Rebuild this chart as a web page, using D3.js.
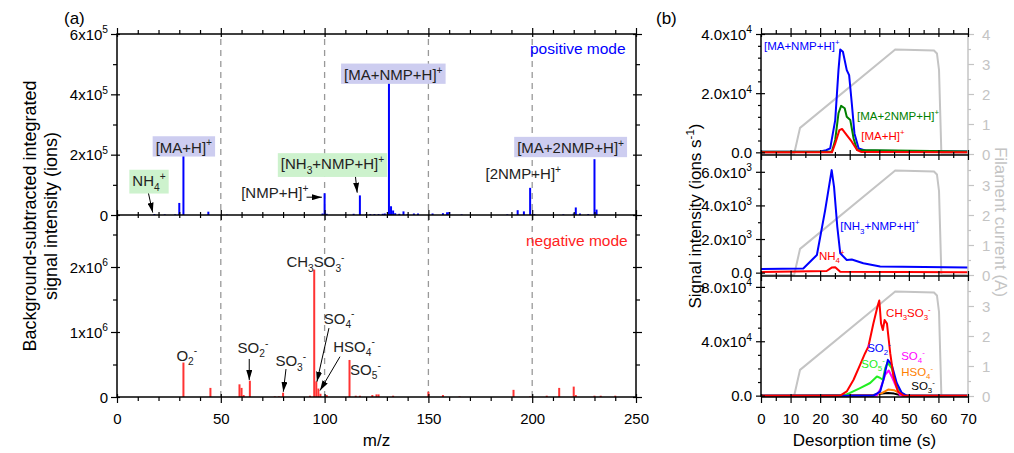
<!DOCTYPE html>
<html lang="en">
<head>
<meta charset="utf-8">
<title>Spectra and desorption profiles</title>
<script src="https://cdn.jsdelivr.net/npm/d3@7"></script>
<style>
body { margin: 0; background: #fff; }
</style>
</head>
<body>
<script>

// ---------- panel (a): integrated mass spectra ----------
var posMz  = [18, 23, 28, 30, 32, 44, 53, 99, 100, 101, 110, 114, 117, 120, 122, 124, 126, 128, 129, 131, 132, 133, 134, 136, 138, 140, 143, 145, 152, 157, 159, 160, 166, 188, 193, 196, 199, 201, 215, 220, 221, 223, 227, 230, 231];
var posInt = [3e3, 2e3, 2e3, 4e4, 1.96e5, 1.1e4, 1e3, 5e3, 7.2e4, 4e3, 1.5e3, 4e3, 6.5e4, 3e3, 3e3, 3e3, 3e3, 4e3, 5e3, 4.39e5, 2.9e4, 1.5e4, 6e3, 4e3, 1.2e4, 3e3, 5e3, 5e3, 5e3, 6e3, 9e3, 1e4, 2e3, 2e3, 1.6e4, 1.2e4, 9e4, 3e3, 2e3, 5e3, 2.5e4, 5e3, 3e3, 1.85e5, 1.8e4];

var negMz  = [32, 45, 59, 60, 61, 64, 76, 78, 80, 93, 95, 96, 97, 98, 101, 112, 115, 117, 123, 125, 126, 133, 150, 157, 165, 191, 199, 207, 213, 220, 221, 230, 233, 240];
var negInt = [5.3e5, 1.4e5, 1.95e5, 1.4e5, 3e4, 2.5e5, 1e4, 1e4, 6.6e4, 2e4, 1.96e6, 2.4e5, 1.3e5, 5e4, 3e4, 5.7e5, 2e4, 2e4, 3e4, 4e4, 4e4, 2e4, 8e4, 3e4, 1e4, 1.1e5, 1e4, 2e4, 1.4e5, 1.6e5, 3e4, 2e4, 2e4, 2e4];

var mzGrid = [50, 100, 150, 200];
var mzMajor = [0, 50, 100, 150, 200, 250];
var posTicks = [0, 2e5, 4e5, 6e5], posTickLabels = ["0", "2x10{^5}", "4x10{^5}", "6x10{^5}"];
var negTicks = [0, 1e6, 2e6],     negTickLabels = ["0", "1x10{^6}", "2x10{^6}"];

// labels: centre m/z, baseline value, box colour
var posLabels = [
  {t: "NH{_4}{^+}",             mz: 15.4,  v: 0.96e5, box: "#cdf2cd"},
  {t: "[MA+H]{^+}",             mz: 32.2,  v: 2.07e5, box: "#cdcdf0"},
  {t: "[NMP+H]{^+}",            mz: 76,    v: 0.55e5, box: null},
  {t: "[NH{_3}+NMP+H]{^+}",     mz: 103.8, v: 1.51e5, box: "#cdf2cd"},
  {t: "[MA+NMP+H]{^+}",         mz: 133.1, v: 4.48e5, box: "#cdcdf0"},
  {t: "[2NMP+H]{^+}",           mz: 195.7, v: 1.18e5, box: null},
  {t: "[MA+2NMP+H]{^+}",        mz: 218.5, v: 2.05e5, box: "#cdcdf0"}
];
var posArrows = [[14.8, 0.83e5, 17.2, 0.08e5], [91.3, 0.59e5, 98.7, 0.59e5], [114.6, 1.44e5, 115.7, 0.74e5]];

var negLabels = [
  {t: "O{_2}{^-}",        mz: 33.6,  v: 0.56e6},
  {t: "SO{_2}{^-}",       mz: 65.5,  v: 0.68e6},
  {t: "SO{_3}{^-}",       mz: 83.7,  v: 0.47e6},
  {t: "CH{_3}SO{_3}{^-}", mz: 95.6,  v: 2.0e6},
  {t: "SO{_4}{^-}",       mz: 107,   v: 1.13e6},
  {t: "HSO{_4}{^-}",      mz: 114.2, v: 0.70e6},
  {t: "SO{_5}{^-}",       mz: 119.7, v: 0.34e6}
];
var negArrows = [[63.7, 0.585e6, 63.7, 0.26e6], [81.4, 0.43e6, 80.1, 0.08e6], [102.1, 1.06e6, 96.3, 0.235e6], [107.4, 0.62e6, 97.8, 0.1e6]];

// ---------- panel (b): desorption time profiles ----------
var filT = [0, 11.2, 13.2, 45.4, 58.5, 59.5, 60.2, 61.0, 70];
var filA = [0, 0, 0.87, 3.48, 3.45, 3.35, 2.8, 0, 0];

var maNmpT  = [0, 20, 22, 23.4, 25.1, 26.2, 26.8, 27.7, 29.0, 29.8, 30.7, 31.6, 33.0, 35.8, 70];
var maNmpV  = [200, 300, 700, 1350, 10900, 27800, 34800, 34000, 27800, 26100, 16600, 6400, 1350, 500, 300];
var ma2NmpT = [0, 24, 25.1, 26.2, 27.1, 28.3, 29.0, 30.2, 31.3, 32.5, 70];
var ma2NmpV = [200, 300, 4200, 13200, 15700, 14900, 12000, 10900, 4700, 800, 300];
var maHT    = [0, 24, 25.1, 26.5, 27.4, 29.0, 30.7, 32.5, 34, 70];
var maHV    = [0, 0, 3000, 7500, 7900, 5800, 3600, 800, 100, 0];

var nh3T = [0, 14.3, 18.9, 21.7, 23.9, 24.7, 25.8, 26.8, 29, 30.7, 34.6, 40.3, 70];
var nh3V = [220, 250, 1050, 3720, 6100, 5100, 2730, 1150, 750, 780, 560, 360, 300];
var nh4T = [0, 22.2, 23.9, 25.1, 26.8, 70];
var nh4V = [30, 100, 300, 320, 50, 30];

var ch3so3T = [0, 26.8, 29, 31.3, 33.5, 35.2, 36.3, 38, 39.5, 40, 40.6, 41.2, 41.8, 42.6, 43.7, 44.8, 46.3, 48.2, 70];
var ch3so3V = [0, 0, 3100, 11700, 22700, 31200, 36000, 53000, 66500, 70000, 53000, 48300, 55600, 53000, 31200, 14100, 3000, 0, 0];
var so2T = [0, 38, 40.3, 41.4, 42.9, 44.2, 45.9, 47.6, 49.3, 70];
var so2V = [0, 0, 3000, 11700, 26300, 22700, 9300, 2000, 0, 0];
var so5T = [0, 28, 30.1, 33.5, 36.9, 39.2, 40.3, 41.2, 42, 42.8, 44.2, 45.9, 47.6, 49, 70];
var so5V = [0, 0, 2000, 5600, 9300, 14100, 13000, 11700, 20200, 24300, 20200, 6800, 2000, 0, 0];
var so4T = [0, 39, 40.3, 42, 43.2, 44.2, 45.9, 47, 48, 70];
var so4V = [0, 0, 4400, 15400, 18500, 14100, 5600, 500, 0, 0];
var hso4T = [0, 38, 41, 43, 45, 47, 49, 70];
var hso4V = [0, 0, 2000, 4500, 4000, 1500, 0, 0];
var so3T = [0, 38, 41, 43, 45, 47, 49, 70];
var so3V = [0, 500, 1500, 2000, 1500, 500, 0, 0];

var timeMajor = [0, 10, 20, 30, 40, 50, 60, 70];
var timeMinor = [5, 15, 25, 35, 45, 55, 65];

var width = 1014, height = 453;
var FONT = "'Liberation Sans', Arial, sans-serif";

var svg = d3.select("body").append("svg")
    .attr("width", width)
    .attr("height", height)
    .attr("font-family", FONT);

svg.append("defs").append("marker")
    .attr("id", "arr")
    .attr("viewBox", "0 0 10 6")
    .attr("refX", 10).attr("refY", 3)
    .attr("markerWidth", 10).attr("markerHeight", 6)
    .attr("markerUnits", "userSpaceOnUse")
    .attr("orient", "auto")
  .append("path").attr("d", "M0,0L10,3L0,6z").attr("fill", "#000");

// text with {_sub} and {^sup} parts; base = extra shift of the first part
function rich(sel, str, size, base) {
    var re = /\{([_^])([^}]*)\}|([^{]+)/g, m, cur = -(base || 0);
    while ((m = re.exec(str))) {
        var isTxt = !!m[3];
        var off = isTxt ? 0 : (m[1] == "_" ? size * 0.3 : -size * 0.42);
        sel.append("tspan")
            .attr("dy", off - cur)
            .attr("font-size", isTxt ? size : size * 0.68)
            .text(isTxt ? m[3] : m[2]);
        cur = off;
    }
    return sel;
}

function addAxis(orient, scale, pos, values, o) {
    var fs = o.fs || 15;
    var gen = {left: d3.axisLeft, right: d3.axisRight, top: d3.axisTop, bottom: d3.axisBottom}[orient](scale)
        .tickValues(values)
        .tickSizeInner(o.out)
        .tickSizeOuter(0)
        .tickPadding(o.pad || 3)
        .tickFormat(function(d, i) { return o.labels ? o.labels[i] : ""; });
    var vert = (orient == "left" || orient == "right");
    var g = svg.append("g")
        .attr("transform", vert ? "translate(" + pos + ",0)" : "translate(0," + pos + ")")
        .call(gen)
        .attr("font-family", FONT)
        .attr("font-size", fs);
    g.select(".domain").remove();
    var sign = (orient == "left" || orient == "top") ? 1 : -1;
    g.selectAll(".tick line")
        .attr(vert ? "x1" : "y1", sign * (o.inn || 0))
        .attr("stroke", o.color || "#000")
        .attr("stroke-width", 1.2);
    var base = vert ? 0.35 * fs : (orient == "bottom" ? 0.72 * fs : 0);
    g.selectAll(".tick text").each(function() {
        var t = d3.select(this), s = t.text();
        t.text(null).attr("dy", null);
        rich(t, s, fs, base);
    }).attr("fill", o.color || "#000");
    return g;
}

// ================= panel (a) =================
var xA = d3.scaleLinear().domain([0, 250]).range([117, 636]);
var yPos = d3.scaleLinear().domain([0, 6e5]).range([215, 34]);
var yNeg = d3.scaleLinear().domain([0, 2.8e6]).range([397, 215]);

svg.append("g").selectAll("line").data(mzGrid).enter().append("line")
    .attr("x1", function(d) { return xA(d); })
    .attr("x2", function(d) { return xA(d); })
    .attr("y1", yNeg(0))
    .attr("y2", yPos(6e5))
    .attr("stroke", "#999")
    .attr("stroke-width", 1.3)
    .attr("stroke-dasharray", "6,5");

svg.append("g").selectAll("line").data(d3.zip(posMz, posInt)).enter().append("line")
    .attr("x1", function(d) { return xA(d[0]); })
    .attr("x2", function(d) { return xA(d[0]); })
    .attr("y1", yPos(0))
    .attr("y2", function(d) { return yPos(d[1]); })
    .attr("stroke", "#0000ff")
    .attr("stroke-width", 2);

svg.append("g").selectAll("line").data(d3.zip(negMz, negInt)).enter().append("line")
    .attr("x1", function(d) { return xA(d[0]); })
    .attr("x2", function(d) { return xA(d[0]); })
    .attr("y1", yNeg(0))
    .attr("y2", function(d) { return yNeg(d[1]); })
    .attr("stroke", "#ff3333")
    .attr("stroke-width", 2);

var mzMinor = d3.range(10, 250, 10).filter(function(d) { return d % 50; });
addAxis("bottom", xA, 397, mzMajor, {out: 6, inn: 3, pad: 10, labels: mzMajor.map(String)});
addAxis("bottom", xA, 397, mzMinor, {out: 4});
addAxis("top", xA, 34, mzMajor, {out: 6, inn: 3});
addAxis("top", xA, 34, mzMinor, {out: 4});
addAxis("bottom", xA, 215, mzMajor, {out: 5, inn: 5});
addAxis("bottom", xA, 215, mzMinor, {out: 3, inn: 3});

addAxis("left", yPos, 117, posTicks, {out: 6, inn: 3, labels: posTickLabels});
addAxis("left", yPos, 117, [1e5, 3e5, 5e5], {out: 4});
addAxis("left", yNeg, 117, negTicks, {out: 6, inn: 3, labels: negTickLabels});
addAxis("left", yNeg, 117, [0.5e6, 1.5e6, 2.5e6], {out: 4});
addAxis("right", yPos, 636, posTicks, {out: 6, inn: 3});
addAxis("right", yPos, 636, [1e5, 3e5, 5e5], {out: 4});
addAxis("right", yNeg, 636, negTicks, {out: 6, inn: 3});
addAxis("right", yNeg, 636, [0.5e6, 1.5e6, 2.5e6], {out: 4});

svg.append("rect")
    .attr("x", xA(0)).attr("y", yPos(6e5))
    .attr("width", xA(250) - xA(0)).attr("height", yNeg(0) - yPos(6e5))
    .attr("fill", "none").attr("stroke", "#000").attr("stroke-width", 1.5);
svg.append("line")
    .attr("x1", xA(0)).attr("x2", xA(250)).attr("y1", yPos(0)).attr("y2", yPos(0))
    .attr("stroke", "#000").attr("stroke-width", 1.5);

// annotations
function arrows(list, ys) {
    svg.append("g").selectAll("line").data(list).enter().append("line")
        .attr("x1", function(d) { return xA(d[0]); })
        .attr("y1", function(d) { return ys(d[1]); })
        .attr("x2", function(d) { return xA(d[2]); })
        .attr("y2", function(d) { return ys(d[3]); })
        .attr("stroke", "#000").attr("stroke-width", 1)
        .attr("marker-end", "url(#arr)");
}
arrows(posArrows, yPos);
arrows(negArrows, yNeg);

posLabels.forEach(function(d) {
    var g = svg.append("g");
    var t = g.append("text")
        .attr("x", xA(d.mz)).attr("y", yPos(d.v))
        .attr("text-anchor", "middle").attr("fill", "#222");
    rich(t, d.t, 15);
    if (d.box) {
        var b = t.node().getBBox();
        g.insert("rect", "text")
            .attr("x", b.x - 3).attr("y", b.y - 1)
            .attr("width", b.width + 6).attr("height", b.height + 2)
            .attr("fill", d.box);
    }
});
negLabels.forEach(function(d) {
    var t = svg.append("text")
        .attr("x", xA(d.mz)).attr("y", yNeg(d.v))
        .attr("text-anchor", "middle").attr("fill", "#222");
    rich(t, d.t, 15);
});

svg.append("text").attr("x", xA(245)).attr("y", yPos(5.35e5))
    .attr("text-anchor", "end").attr("font-size", 15.5).attr("fill", "#0000ff").text("positive mode");
svg.append("text").attr("x", xA(246)).attr("y", yNeg(2.33e6))
    .attr("text-anchor", "end").attr("font-size", 15.5).attr("fill", "#ff2222").text("negative mode");

svg.append("text").attr("x", 64).attr("y", 24).attr("font-size", 17).text("(a)");
svg.append("text").attr("x", xA(125)).attr("y", 446).attr("text-anchor", "middle").attr("font-size", 17).text("m/z");
svg.append("text").attr("transform", "translate(36,216) rotate(-90)")
    .attr("text-anchor", "middle").attr("font-size", 18).text("Background-subtracted integrated");
svg.append("text").attr("transform", "translate(57,216) rotate(-90)")
    .attr("text-anchor", "middle").attr("font-size", 18).text("signal intensity (ions)");

// ================= panel (b) =================
var xB = d3.scaleLinear().domain([0, 70]).range([761, 968]);
var subs = [
    {top: 34,  bot: 155, dom: [-900, 40000], ticks: [0, 2e4, 4e4], labels: ["0.0", "2.0x10{^4}", "4.0x10{^4}"], minor: [4e3, 8e3, 1.2e4, 1.6e4, 2.4e4, 2.8e4, 3.2e4, 3.6e4], fil: [0, 1, 2, 3, 4],
     series: [[maNmpT, maNmpV, "#0000ff"], [ma2NmpT, ma2NmpV, "#008000"], [maHT, maHV, "#ff0000"]],
     text: [["[MA+NMP+H]{^+}", 1.0, 34600, "#0000ff"], ["[MA+2NMP+H]{^+}", 32.5, 10900, "#008000"], ["[MA+H]{^+}", 33.9, 4200, "#ff0000"]]},
    {top: 155, bot: 276, dom: [-200, 7000], ticks: [0, 2e3, 4e3, 6e3], labels: ["0.0", "2.0x10{^3}", "4.0x10{^3}", "6.0x10{^3}"], minor: [1e3, 3e3, 5e3], fil: [0, 1, 2, 3],
     series: [[nh3T, nh3V, "#0000ff"], [nh4T, nh4V, "#ff0000"]],
     text: [["[NH{_3}+NMP+H]{^+}", 26.8, 2530, "#0000ff"], ["NH{_4}{^+}", 19.6, 750, "#ff0000"]]},
    {top: 276, bot: 397, dom: [-1000, 88000], ticks: [0, 4e4, 8e4], labels: ["0.0", "4.0x10{^4}", "8.0x10{^4}"], minor: [1e4, 2e4, 3e4, 5e4, 6e4, 7e4], fil: [0, 1, 2, 3],
     series: [[so3T, so3V, "#000000"], [hso4T, hso4V, "#ff8000"], [so4T, so4V, "#ff00ff"], [so5T, so5V, "#22ee22"], [so2T, so2V, "#0000ff"], [ch3so3T, ch3so3V, "#ff0000"]],
     text: [["CH{_3}SO{_3}{^-}", 42.3, 58000, "#ff0000"], ["SO{_2}{^-}", 35.9, 32400, "#0000ff"], ["SO{_5}{^-}", 33.9, 20300, "#22ee22"],
            ["SO{_4}{^-}", 47.4, 26300, "#ff00ff"], ["HSO{_4}{^-}", 47.4, 14800, "#ff8000"], ["SO{_3}{^-}", 50.8, 4400, "#000000"]]}
];

subs.forEach(function(s) {
    var y = d3.scaleLinear().domain(s.dom).range([s.bot, s.top]);
    var r = d3.scaleLinear().domain([0, 4]).range([s.bot - 1, s.top]);

    var fline = d3.line().x(function(d) { return xB(d[0]); }).y(function(d) { return r(d[1]); });
    svg.append("path").datum(d3.zip(filT, filA)).attr("d", fline)
        .attr("fill", "none").attr("stroke", "#c4c4c4").attr("stroke-width", 2);

    var line = d3.line().x(function(d) { return xB(d[0]); }).y(function(d) { return y(d[1]); });
    s.series.forEach(function(p) {
        svg.append("path").datum(d3.zip(p[0], p[1])).attr("d", line)
            .attr("fill", "none").attr("stroke", p[2]).attr("stroke-width", 2)
            .attr("stroke-linejoin", "round");
    });

    s.text.forEach(function(p) {
        var t = svg.append("text").attr("x", xB(p[1])).attr("y", y(p[2])).attr("fill", p[3]);
        rich(t, p[0], 11.5);
    });

    addAxis("left", y, 761, s.ticks, {out: 5, inn: 4, pad: 4, labels: s.labels});
    addAxis("left", y, 761, s.minor, {out: 3});
    addAxis("right", r, 968, s.fil, {out: 6, pad: 8, labels: s.fil.map(String), color: "#c4c4c4"});
    addAxis("right", r, 968, [0.5, 1.5, 2.5, 3.5], {out: 3, color: "#c4c4c4"});

    svg.append("line").attr("x1", 761).attr("x2", 761).attr("y1", s.top).attr("y2", s.bot)
        .attr("stroke", "#000").attr("stroke-width", 1.5);
    svg.append("line").attr("x1", 968).attr("x2", 968).attr("y1", s.top).attr("y2", s.bot)
        .attr("stroke", "#c4c4c4").attr("stroke-width", 1.5);
});

[34, 155, 276, 397].forEach(function(yy, i) {
    if (i == 0) {
        addAxis("top", xB, yy, timeMajor, {out: 6, inn: 3});
        addAxis("top", xB, yy, timeMinor, {out: 4});
    } else if (i == 3) {
        addAxis("bottom", xB, yy, timeMajor, {out: 6, inn: 3, pad: 10, labels: timeMajor.map(String)});
        addAxis("bottom", xB, yy, timeMinor, {out: 4});
    } else {
        addAxis("bottom", xB, yy, timeMajor, {out: 5, inn: 5});
        addAxis("bottom", xB, yy, timeMinor, {out: 3, inn: 3});
    }
    svg.append("line").attr("x1", 761).attr("x2", 968).attr("y1", yy).attr("y2", yy)
        .attr("stroke", "#000").attr("stroke-width", 1.5);
});

svg.append("text").attr("x", 656).attr("y", 24).attr("font-size", 17).text("(b)");
svg.append("text").attr("x", xB(35)).attr("y", 446).attr("text-anchor", "middle").attr("font-size", 17).text("Desorption time (s)");
rich(svg.append("text").attr("transform", "translate(701,216) rotate(-90)")
    .attr("text-anchor", "middle"), "Signal intensity (ions s{^-1})", 17);
svg.append("text").attr("transform", "translate(995,222) rotate(90)")
    .attr("text-anchor", "middle").attr("font-size", 17).attr("fill", "#c4c4c4").text("Filament current (A)");

</script>
</body>
</html>
